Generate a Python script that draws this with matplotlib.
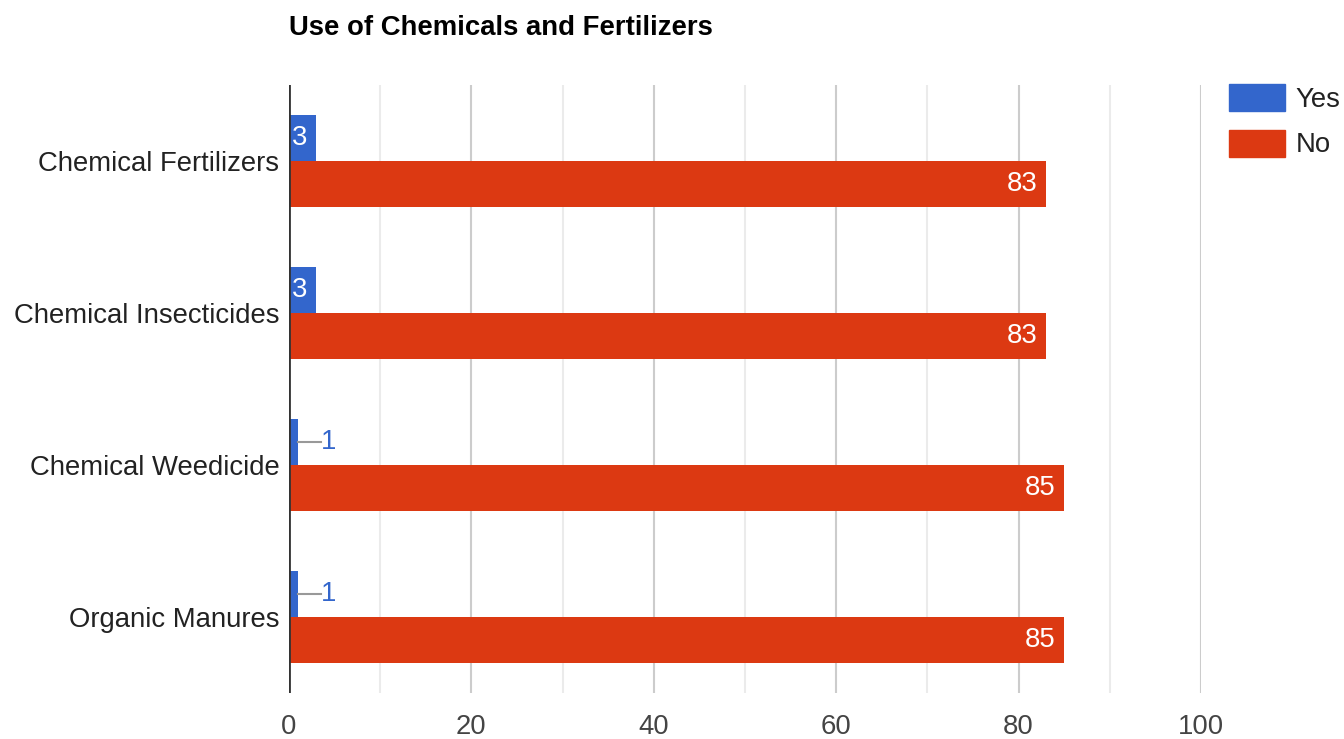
import matplotlib.pyplot as plt
import numpy as np
from matplotlib.patches import Patch

plt.rcParams['font.family'] = ['Liberation Sans', 'DejaVu Sans']

categories = ['Chemical Fertilizers', 'Chemical Insecticides', 'Chemical Weedicide', 'Organic Manures']
yes_vals = [3, 3, 1, 1]
no_vals = [83, 83, 85, 85]
series_names = ['Yes', 'No']
colors = ['#3366cc', '#dc3912']
xticks = [0, 20, 40, 60, 80, 100]

FS = 19.8

fig = plt.figure(figsize=(13.44, 7.39), dpi=100)
ax = fig.add_axes([289 / 1344, 1 - 693 / 739, (1201 - 289) / 1344, (693 - 85) / 739])

y = np.arange(len(categories))
h = 0.305
ax.barh(y - h / 2, yes_vals, height=h, color=colors[0], zorder=3)
ax.barh(y + h / 2, no_vals, height=h, color=colors[1], zorder=3)

ax.set_xlim(0, 100)
ax.set_ylim(len(categories) - 0.5, -0.5)

# grid: light lines at odd tens, darker at the labelled ticks
for v in range(10, 101, 10):
    c = '#cccccc' if v % 20 == 0 else '#ebebeb'
    ax.axvline(v, color=c, lw=1.5, zorder=1)
ax.axvline(0, color='#333333', lw=2, zorder=4)

for s in ax.spines.values():
    s.set_visible(False)

ax.set_xticks(xticks)
ax.set_xticklabels([str(t) for t in xticks], fontsize=FS, color='#444444')
ax.tick_params(axis='x', length=0, pad=15)
ax.set_yticks(y)
ax.set_yticklabels(categories, fontsize=FS, color='#222222')
ax.tick_params(axis='y', length=0, pad=7)

# value labels
for i, v in enumerate(yes_vals):
    if v >= 3:
        ax.text(0.3, i - h / 2, str(v), color='white', fontsize=FS,
                va='center', ha='left', zorder=5)
    else:
        ax.plot([v, v + 2.5], [i - h / 2, i - h / 2], color='#999999', lw=1.5, zorder=4)
        ax.text(v + 2.5, i - h / 2, str(v), color=colors[0], fontsize=FS,
                va='center', ha='left', zorder=5)
for i, v in enumerate(no_vals):
    ax.text(v - 0.9, i + h / 2, str(v), color='white', fontsize=FS,
            va='center', ha='right', zorder=5)

fig.text(289 / 1344, 1 - 28 / 739, 'Use of Chemicals and Fertilizers',
         fontsize=FS, fontweight='bold', va='center', ha='left', color='#000000')

handles = [Patch(color=c) for c in colors]
fig.legend(handles, series_names, loc='upper left',
           bbox_to_anchor=(1229 / 1344, 1 - 84 / 739), frameon=False,
           fontsize=FS, handlelength=2.05, handleheight=1.12,
           labelspacing=0.62, handletextpad=0.36, borderpad=0, borderaxespad=0,
           labelcolor='#222222')

fig.savefig('out.png', dpi=100)
